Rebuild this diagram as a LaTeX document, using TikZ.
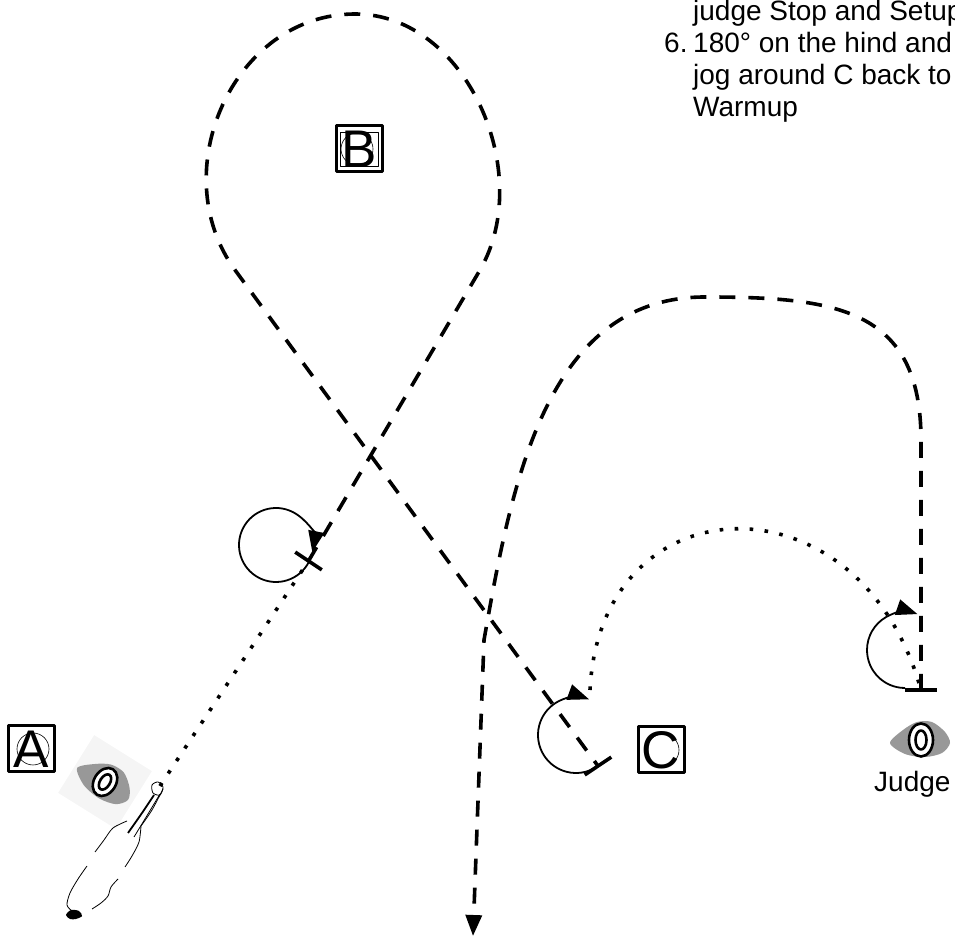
\documentclass[tikz,border=0pt]{standalone}
\usepackage{fontspec}
\setmainfont{Liberation Sans}
\usepackage{tikz}
\usetikzlibrary{arrows.meta}
\definecolor{blobgray}{RGB}{152,152,152}

\begin{document}
\begin{tikzpicture}[>={Triangle[length=21bp,width=16bp]},line join=bevel,
  dashtrack/.style={line width=3.6bp,dash pattern=on 16bp off 13bp},
  dottrack/.style={line width=3.6bp,dash pattern=on 3.6bp off 11.4bp},
  turnloop/.style={line width=1.8bp},
  stopbar/.style={line width=3.6bp},
  arenamark/.style={draw,line width=3bp,minimum size=46bp,inner sep=0pt,
    font=\fontsize{53bp}{53bp}\selectfont},
  pattext/.style={anchor=base west,inner sep=0pt,font=\fontsize{28bp}{32bp}\selectfont},
  judgering/.style={line width=2.6bp,fill=white}]
\useasboundingbox (0bp,0bp) rectangle (955bp,937bp);
\clip (0bp,0bp) rectangle (955bp,937bp);
%% pattern notes
  \node[pattext] (note5) at (693bp,916bp) {judge Stop and Setup};
  \node[pattext] (num6) at (664bp,884bp) {6.};
  \node[pattext] (note6a) at (693bp,884bp) {180° on the hind and};
  \node[pattext] (note6b) at (693bp,852bp) {jog around C back to};
  \node[pattext] (note6c) at (693bp,820bp) {Warmup};
%% arena markers
\begin{scope}
  \draw [line width=0.6bp] (33bp,188bp) circle (16bp);
  \node[arenamark] (markA) at (31.5bp,188bp) {A};
\end{scope}
\begin{scope}
  \draw [line width=0.6bp] (357bp,788bp) circle (16bp);
  \draw [line width=0.8bp] (340bp,771bp) rectangle (378bp,805bp);
  \node[arenamark] (markB) at (359bp,788bp) {B};
\end{scope}
\begin{scope}
  \draw [line width=0.6bp] (663bp,187bp) circle (16bp);
  \node[arenamark] (markC) at (661bp,187bp) {C};
\end{scope}
%% judges
\begin{scope}[shift={(105bp,155bp)},rotate=-32]
  \fill [black!4] (-34bp,-34bp) rectangle (34bp,34bp);
  \fill [blobgray] plot[smooth cycle] coordinates {(-31bp,-3bp) (-18bp,10bp) (-4bp,18bp) (11bp,18bp) (24bp,8bp) (29bp,-3bp) (21bp,-13bp) (4bp,-17bp) (-16bp,-14bp)};
  \draw [judgering] (0bp,0bp) ellipse [x radius=11bp,y radius=15bp];
  \draw [judgering] (0bp,0bp) ellipse [x radius=5bp,y radius=8.5bp];
  \coordinate (judgeA) at (0bp,0bp);
\end{scope}
\begin{scope}[shift={(921bp,197bp)}]
  \fill [blobgray] plot[smooth cycle] coordinates {(-31bp,-3bp) (-18bp,10bp) (-4bp,18bp) (11bp,18bp) (24bp,8bp) (29bp,-3bp) (21bp,-13bp) (4bp,-17bp) (-16bp,-14bp)};
  \draw [judgering] (0bp,0bp) ellipse [x radius=12bp,y radius=16.5bp];
  \draw [judgering] (0bp,0bp) ellipse [x radius=5.5bp,y radius=9.5bp];
  \coordinate (judgeC) at (0bp,0bp);
\end{scope}
  \node[pattext] (judgelab) at (874bp,145bp) {Judge};
%% horse
\begin{scope}[line width=0.8bp]
  \draw plot[smooth cycle] coordinates {(152bp,152bp) (158bp,155bp) (163bp,150bp) (160bp,142bp) (153bp,144bp)};
  \draw [line width=1.8bp] plot[smooth] coordinates {(154bp,142bp) (142bp,124bp) (128bp,104bp)};
  \draw plot[smooth] coordinates {(160bp,143bp) (148bp,123bp) (134bp,100bp)};
  \draw plot[smooth] coordinates {(163bp,148bp) (152bp,127bp) (141bp,111bp)};
  \draw plot[smooth] coordinates {(127bp,116bp) (113bp,109bp) (104bp,97bp) (95bp,85bp)};
  \draw plot[smooth] coordinates {(87bp,71bp) (78bp,58bp) (70bp,44bp) (67bp,32bp) (72bp,26bp)};
  \draw plot[smooth] coordinates {(141bp,111bp) (139bp,95bp) (132bp,81bp) (125bp,70bp)};
  \draw plot[smooth] coordinates {(118bp,58bp) (111bp,50bp) (108bp,41bp) (101bp,34bp) (92bp,28bp)};
  \fill plot[smooth cycle] coordinates {(66bp,22bp) (71bp,27bp) (79bp,26bp) (82bp,21bp) (76bp,18bp) (70bp,18bp)};
\end{scope}
%% track points
  \coordinate (head) at (160bp,151bp);
  \coordinate (c1) at (276bp,392bp);
  \coordinate (t1) at (308.5bp,376bp);
  \coordinate (loopR) at (480bp,667bp);
  \coordinate (loopT) at (355bp,923bp);
  \coordinate (loopL) at (235bp,667bp);
  \coordinate (cC) at (576bp,202bp);
  \coordinate (tC) at (598bp,171bp);
  \coordinate (dC) at (590bp,247bp);
  \coordinate (cJ) at (905bp,287bp);
  \coordinate (tJ) at (921bp,247bp);
  \coordinate (arcR) at (921bp,497bp);
  \coordinate (arcT) at (705bp,640bp);
  \coordinate (arcL) at (484bp,297bp);
  \coordinate (finish) at (473bp,1bp);
%% stop bars
  \draw [stopbar] ([shift={(-33.7:-16bp)}]t1) -- ([shift={(-33.7:16bp)}]t1);
  \draw [stopbar] ([shift={(33.7:-16bp)}]tC) -- ([shift={(33.7:16bp)}]tC);
  \draw [stopbar] ([shift={(0:-16bp)}]tJ) -- ([shift={(0:16bp)}]tJ);
%% turns
  \draw [turnloop,->] ([shift={(-27:37bp)}]c1) arc[start angle=-27,end angle=-371,radius=37bp];
  \draw [turnloop,->] ([shift={(-64:38bp)}]cC) arc[start angle=-64,end angle=-290,radius=38bp];
  \draw [turnloop,->] ([shift={(-90:38bp)}]cJ) arc[start angle=-90,end angle=-289,radius=38bp];
%% tracks
  \draw [dottrack] (head) -- (t1);
  \draw [dashtrack] (t1) -- (loopR) to[out=60,in=0] (loopT) to[out=180,in=126,looseness=1.1] (loopL) -- (tC);
  \draw [dottrack] (dC) .. controls (600bp,457bp) and (860bp,467bp) .. (tJ);
  \draw [dashtrack,->] (tJ) -- (arcR) to[out=90,in=0,looseness=1.3] (arcT) to[out=180,in=80] (arcL) -- (finish);
%
\end{tikzpicture}
\end{document}
